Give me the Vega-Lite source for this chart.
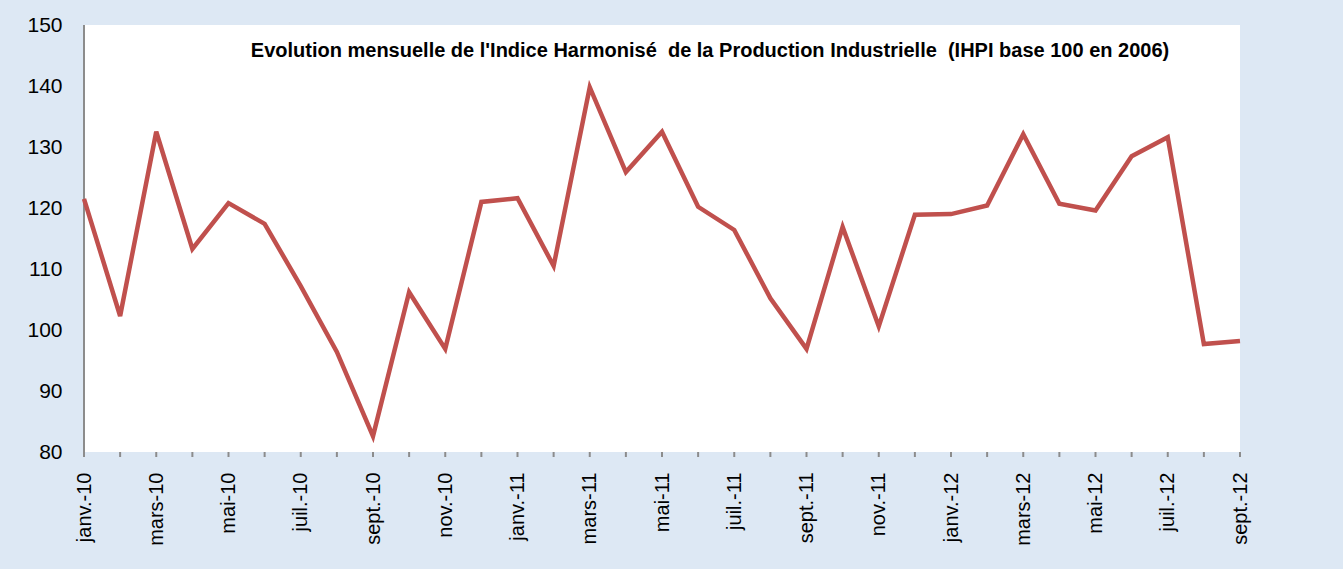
{
  "$schema": "https://vega.github.io/schema/vega-lite/v6.json",
  "width": 1156,
  "height": 427,
  "autosize": {"type": "none"},
  "padding": {"left": 84, "top": 25, "right": 103, "bottom": 117},
  "background": "#dde8f4",
  "title": {
    "text": "Evolution mensuelle de l'Indice Harmonisé\u00a0 de la Production Industrielle\u00a0 (IHPI base 100 en 2006)",
    "font": "Liberation Sans",
    "fontSize": 20,
    "fontWeight": "bold",
    "color": "#000000",
    "anchor": "middle",
    "dx": 48,
    "offset": -47,
    "baseline": "top"
  },
  "config": {
    "view": {"fill": "#ffffff", "stroke": null},
    "axis": {"labelFont": "Liberation Sans", "labelColor": "#000000"}
  },
  "data": {
    "values": [
      {"mois": "janv.-10", "ihpi": 121.5},
      {"mois": "févr.-10", "ihpi": 102.3},
      {"mois": "mars-10", "ihpi": 132.5},
      {"mois": "avr.-10", "ihpi": 113.3},
      {"mois": "mai-10", "ihpi": 120.8},
      {"mois": "juin-10", "ihpi": 117.4},
      {"mois": "juil.-10", "ihpi": 107.2},
      {"mois": "août-10", "ihpi": 96.4},
      {"mois": "sept.-10", "ihpi": 82.6},
      {"mois": "oct.-10", "ihpi": 106.2},
      {"mois": "nov.-10", "ihpi": 96.9},
      {"mois": "déc.-10", "ihpi": 121.0},
      {"mois": "janv.-11", "ihpi": 121.6},
      {"mois": "févr.-11", "ihpi": 110.5},
      {"mois": "mars-11", "ihpi": 139.8},
      {"mois": "avr.-11", "ihpi": 125.9},
      {"mois": "mai-11", "ihpi": 132.5},
      {"mois": "juin-11", "ihpi": 120.2},
      {"mois": "juil.-11", "ihpi": 116.4},
      {"mois": "août-11", "ihpi": 105.2},
      {"mois": "sept.-11", "ihpi": 96.9},
      {"mois": "oct.-11", "ihpi": 116.9},
      {"mois": "nov.-11", "ihpi": 100.6},
      {"mois": "déc.-11", "ihpi": 118.9},
      {"mois": "janv.-12", "ihpi": 119.0},
      {"mois": "févr.-12", "ihpi": 120.4},
      {"mois": "mars-12", "ihpi": 132.1},
      {"mois": "avr.-12", "ihpi": 120.7},
      {"mois": "mai-12", "ihpi": 119.6},
      {"mois": "juin-12", "ihpi": 128.5},
      {"mois": "juil.-12", "ihpi": 131.6},
      {"mois": "août-12", "ihpi": 97.7},
      {"mois": "sept.-12", "ihpi": 98.2}
    ]
  },
  "layer": [
    {
      "mark": {"type": "rule", "color": "#8c8c8c", "strokeWidth": 2},
      "encoding": {
        "x": {"field": "mois", "type": "ordinal", "sort": null},
        "y": {"datum": 80},
        "y2": {"datum": 79.18}
      }
    },
    {
      "mark": {"type": "rule", "color": "#8c8c8c", "strokeWidth": 2},
      "encoding": {
        "x": {"datum": "janv.-10"},
        "y": {"datum": 80},
        "y2": {"datum": 150}
      }
    },
    {
      "mark": {"type": "line", "color": "#c0504d", "strokeWidth": 4.5, "strokeJoin": "miter", "strokeCap": "butt"},
      "encoding": {
        "x": {
          "field": "mois",
          "type": "ordinal",
          "sort": null,
          "scale": {"type": "point", "padding": 0},
          "axis": {
            "title": null,
            "values": ["janv.-10", "mars-10", "mai-10", "juil.-10", "sept.-10", "nov.-10", "janv.-11", "mars-11", "mai-11", "juil.-11", "sept.-11", "nov.-11", "janv.-12", "mars-12", "mai-12", "juil.-12", "sept.-12"],
            "labelAngle": -90,
            "labelAlign": "right",
            "labelBaseline": "middle",
            "labelFontSize": 20,
            "ticks": false,
            "domain": false,
            "offset": 18,
            "grid": false
          }
        },
        "y": {
          "field": "ihpi",
          "type": "quantitative",
          "scale": {"domain": [80, 150], "nice": false, "zero": false},
          "axis": {
            "title": null,
            "values": [80, 90, 100, 110, 120, 130, 140, 150],
            "labelFontSize": 21,
            "domain": false,
            "ticks": false,
            "offset": 20,
            "gridColor": "#8c8c8c",
            "gridWidth": 1.5,
            "gridOpacity": 1
          }
        }
      }
    }
  ]
}
